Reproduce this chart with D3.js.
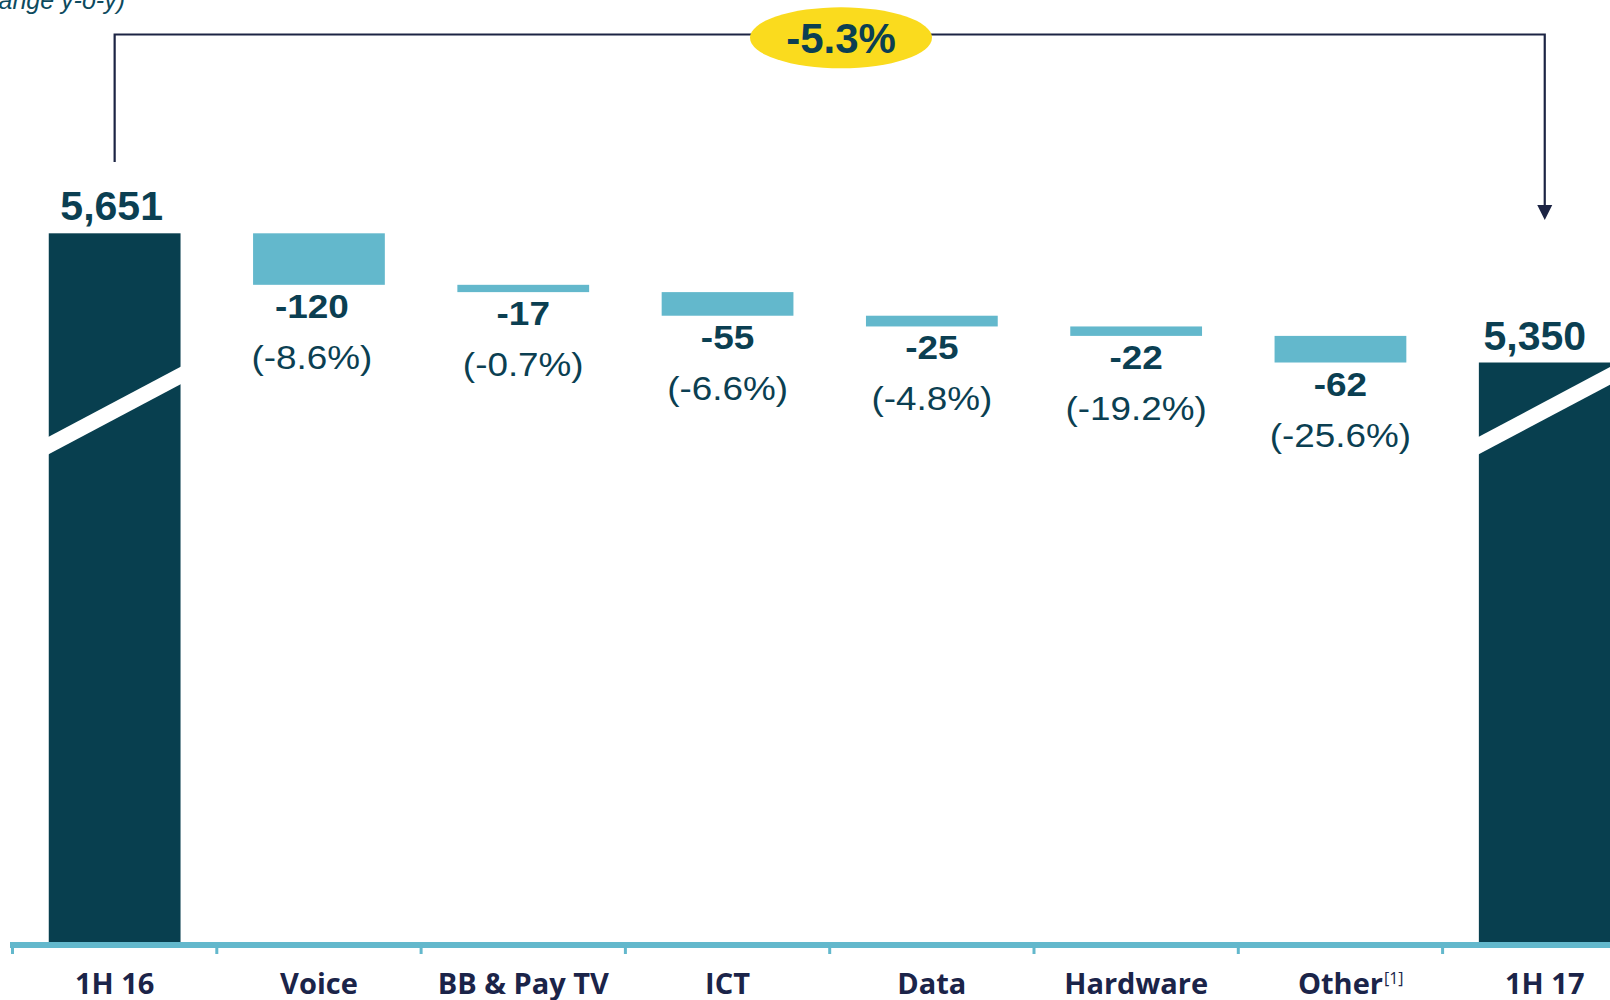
<!DOCTYPE html>
<html>
<head>
<meta charset="utf-8">
<script src="https://cdn.jsdelivr.net/npm/d3@7"></script>
<style>
  html, body { margin: 0; padding: 0; background: #fff; overflow: hidden; }
  svg { display: block; }
  .num { font-family: "Liberation Sans", Arial, sans-serif; fill: #0b3f52; }
  .cat { font-family: "Open Sans", sans-serif; font-weight: 700; fill: #1b2449; }
  .sup { font-family: "Open Sans", sans-serif; font-weight: 400; fill: #1b2449; }
</style>
</head>
<body>
<div id="chart"></div>
<script>
// data
const categories = ["1H 16", "Voice", "BB & Pay TV", "ICT", "Data", "Hardware", "Other", "1H 17"];
const footnotes = ["", "", "", "", "", "", "[1]", ""];
const startTotal = 5651;
const endTotal = 5350;
const changes = [-120, -17, -55, -25, -22, -62];
const changePct = [-8.6, -0.7, -6.6, -4.8, -19.2, -25.6];
const totalPct = -5.3;

const W = 1610, H = 1000;
const baseY = 942;

const svg = d3.select("#chart").append("svg")
  .attr("width", W)
  .attr("height", H);

const x = d3.scaleBand().domain(categories).range([12.5, 12.5 + 8 * 204.3]).padding(0);
const barW = x.bandwidth() * 0.645;
const barX = (d) => x(d) + (x.bandwidth() - barW) / 2;
const cx = (d) => x(d) + x.bandwidth() / 2;

// broken axis: scale starts at 4000
const y = d3.scaleLinear().domain([4000, 6000]).range([baseY, 83.5]);

const fmt = d3.format(",");

// build waterfall rows
let running = startTotal;
const rows = [{ cat: categories[0], from: 4000, to: startTotal, total: true }];
changes.forEach((c, i) => {
  rows.push({ cat: categories[i + 1], from: running, to: running + c, total: false, change: c, pct: changePct[i] });
  running += c;
});
rows.push({ cat: categories[7], from: 4000, to: endTotal, total: true });

// axis line + ticks
svg.append("line")
  .attr("x1", 10).attr("x2", W)
  .attr("y1", baseY + 3).attr("y2", baseY + 3)
  .attr("stroke", "#63b8cc").attr("stroke-width", 6);

svg.selectAll(".tick")
  .data(categories)
  .enter().append("line")
  .attr("class", "tick")
  .attr("x1", (d) => x(d)).attr("x2", (d) => x(d))
  .attr("y1", baseY + 3).attr("y2", baseY + 12)
  .attr("stroke", "#63b8cc").attr("stroke-width", 3);

// bars
svg.selectAll(".bar")
  .data(rows)
  .enter().append("rect")
  .attr("class", "bar")
  .attr("x", (d) => barX(d.cat))
  .attr("width", barW)
  .attr("y", (d) => y(Math.max(d.from, d.to)))
  .attr("height", (d) => Math.abs(y(d.from) - y(d.to)))
  .attr("fill", (d) => (d.total ? "#083f4f" : "#63b8cc"));

// break marks on the total bars
const totalsRows = rows.filter((d) => d.total);
svg.selectAll(".brk")
  .data(totalsRows)
  .enter().append("polygon")
  .attr("class", "brk")
  .attr("fill", "#fff")
  .attr("points", (d) => {
    const x0 = barX(d.cat) - 2, x1 = barX(d.cat) + barW + 2;
    const mid = 410.5, half = 36, t = 8.8;
    return [
      [x0, mid + half - t], [x1, mid - half - t],
      [x1, mid - half + t], [x0, mid + half + t]
    ].map((p) => p.join(",")).join(" ");
  });

// total labels
svg.selectAll(".totlab")
  .data(totalsRows)
  .enter().append("text")
  .attr("class", "num")
  .attr("x", (d, i) => cx(d.cat) - (i === 1 ? 10 : 3))
  .attr("y", (d) => y(d.to) - 13)
  .attr("text-anchor", "middle")
  .attr("font-weight", 700)
  .attr("font-size", 41)
  .text((d) => fmt(d.to));

// change labels (slightly stretched horizontally like the source)
const changeRows = rows.filter((d) => !d.total);
svg.selectAll(".chg")
  .data(changeRows)
  .enter().append("text")
  .attr("class", "num")
  .attr("transform", (d, i) => `translate(${cx(d.cat) - (i === 0 ? 7 : 0)},${y(d.to) + 33}) scale(1.12,1)`)
  .attr("text-anchor", "middle")
  .attr("font-weight", 700)
  .attr("font-size", 33)
  .text((d) => d.change);

svg.selectAll(".pct")
  .data(changeRows)
  .enter().append("text")
  .attr("class", "num")
  .attr("transform", (d, i) => `translate(${cx(d.cat) - (i === 0 ? 7 : 0)},${y(d.to) + 84}) scale(1.1,1)`)
  .attr("text-anchor", "middle")
  .attr("font-size", 33.5)
  .text((d) => "(" + d.pct.toFixed(1) + "%)");

// category labels
const catText = svg.selectAll(".cat")
  .data(categories)
  .enter().append("text")
  .attr("class", "cat")
  .attr("x", (d) => cx(d))
  .attr("y", 994)
  .attr("text-anchor", "middle")
  .attr("font-size", 29)
  .text((d) => d);

// footnote markers placed after the centred label
catText.each(function (d, i) {
  if (!footnotes[i]) return;
  const w = this.getComputedTextLength();
  svg.append("text")
    .attr("class", "sup")
    .attr("x", cx(d) + w / 2 + 1)
    .attr("y", 984)
    .attr("font-size", 16)
    .text(footnotes[i]);
});

// bracket with arrow
const lx = cx(categories[0]), rx = cx(categories[7]);
const topY = 34.5;
svg.append("path")
  .attr("d", `M${lx},162 V${topY} H${rx} V206`)
  .attr("fill", "none")
  .attr("stroke", "#1c2444")
  .attr("stroke-width", 2.2);
svg.append("path")
  .attr("d", `M${rx - 7.5},205 L${rx + 7.5},205 L${rx},220 Z`)
  .attr("fill", "#1c2444");

// overall change bubble
svg.append("ellipse")
  .attr("cx", 841).attr("cy", 37.8)
  .attr("rx", 91).attr("ry", 30.5)
  .attr("fill", "#fadb1e");
svg.append("text")
  .attr("class", "num")
  .attr("x", 841).attr("y", 53)
  .attr("text-anchor", "middle")
  .attr("font-weight", 700)
  .attr("font-size", 42)
  .text(totalPct.toFixed(1) + "%");

// cropped subtitle at top-left
svg.append("text")
  .attr("x", 125).attr("y", 9)
  .attr("text-anchor", "end")
  .attr("font-family", "Liberation Sans, Arial, sans-serif")
  .attr("font-style", "italic")
  .attr("font-size", 25)
  .attr("fill", "#0d4a5e")
  .text("(% change y-o-y)");
</script>
</body>
</html>
